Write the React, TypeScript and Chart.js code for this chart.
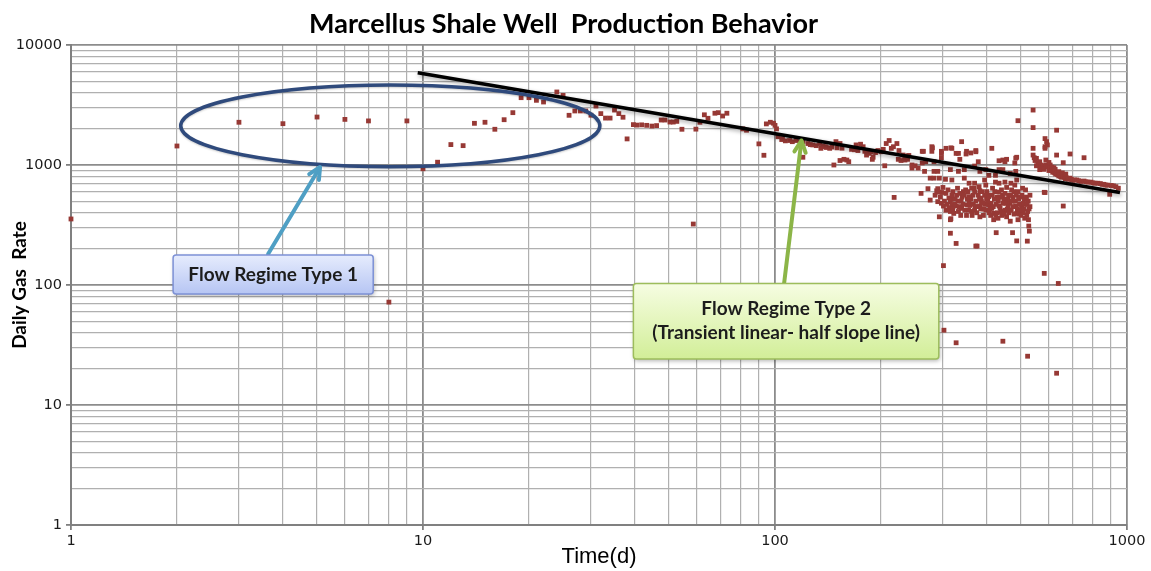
import React, { useEffect, useRef } from 'react';
import { Chart, registerables } from 'chart.js';

Chart.register(...registerables);

// ---------- text ----------
const chartTitle = 'Marcellus Shale Well  Production Behavior';
const xAxisTitle = 'Time(d)';
const yAxisTitle = 'Daily Gas  Rate';
const regime1Label = 'Flow Regime Type 1';
const regime2Lines = ['Flow Regime Type 2', '(Transient linear- half slope line)'];

// ---------- axes ----------
const xMajorTicks = [1, 10, 100, 1000];
const yMajorTicks = [1, 10, 100, 1000, 10000];
const minorSteps = [2, 3, 4, 5, 6, 7, 8, 9];

// ---------- data: [day, daily gas rate] ----------
const regime1Points: [number, number][] = [
  [1, 355], [2, 1440], [3, 2270], [4, 2210], [5, 2510], [6, 2400], [7, 2330], [8, 72], [9, 2330],
];

const transitionPoints: [number, number][] = [
  [10, 930], [11, 1055], [12, 1480], [13, 1450], [14, 2225], [15, 2270], [16, 1985], [17, 2385],
  [18, 2730], [19, 3640], [20, 3640], [21, 3460], [22, 3350], [24, 4060], [25, 3800], [26, 2595],
  [27, 2820], [28, 2820], [29, 2820], [30, 2600], [31, 3100], [32, 2680], [33, 2460], [34, 2460],
  [35, 2870], [36, 2680], [37, 2500], [38, 1650], [39.6, 2170],
];

const plateauPoints: [number, number][] = [
  [40.5, 2150], [41.8, 2160], [43.2, 2140], [44.7, 2110], [46.1, 2130], [47.5, 2370], [48.7, 2370],
  [50.3, 2280], [51.4, 2280], [52.6, 2310], [54.4, 1985], [58.6, 322], [59.6, 1990], [61.2, 2270],
  [63, 2620], [64.5, 2450], [67.5, 2700], [69, 2730], [71, 2560], [73, 2700], [81, 2000], [83, 1950],
  [90, 1500], [93, 1205], [94.5, 2200], [97, 2270], [99, 2230], [100, 2140], [101, 2000],
];

const linearPoints: [number, number][] = [
  [102, 1720], [104.5, 1630], [105, 1660], [107, 1590], [110, 1600], [112, 1565], [115, 1600],
  [118, 1540], [120, 1565], [120, 1160], [124, 1510], [126, 1480], [128, 1470], [131, 1450],
  [134, 1510], [135, 1377], [137, 1440], [139, 1420], [140, 1400], [143, 1377], [145, 1410],
  [147, 1000], [149, 1565], [150, 1390], [153, 1510], [153, 1090], [155, 1380], [157, 1115],
  [160, 1100], [162, 1065], [165, 1350], [168, 1340], [170, 1470], [172, 1320], [175, 1490],
  [178, 1420], [180, 1300], [182, 1210], [185, 1250], [187, 1280], [189, 1115], [190, 1160],
  [193, 1270], [196, 1320], [200, 1290], [203, 1350], [205, 985], [207, 1510], [211, 1600],
  [214, 1377], [217, 1420], [218, 537], [222, 1510], [224, 1115], [225, 1320], [228, 1090],
];

const clusterUpper: [number, number][] = [
  [231, 1210], [234, 1160], [234, 1100], [238, 1190], [238, 1115], [240, 1200], [245, 943], [245, 1000],
  [250, 985], [255, 943], [262, 1040], [262, 1300], [264, 1300], [266, 885], [268, 1065], [272, 635],
  [276, 777], [279, 1420], [279, 1300], [280, 1390], [283, 1065], [283, 885], [283, 777], [290, 885],
  [290, 635], [293, 777], [293, 595], [297, 1300], [297, 1250], [297, 1150], [305, 760], [306, 1377],
  [306, 580], [315, 915], [316, 1390], [318, 1377], [318, 750], [318, 560], [327, 1250], [332, 1250],
  [332, 885], [335, 1115], [335, 580], [339, 1565], [345, 915], [345, 777], [345, 560], [349, 1235],
  [350, 1300], [356, 705], [356, 545], [360, 1260], [369, 980], [369, 705], [369, 595], [372, 1290],
  [372, 1320], [378, 1065], [382, 885], [382, 610], [394, 750], [394, 560], [397, 915], [397, 680],
  [405, 820], [405, 545], [413, 1377], [423, 820], [423, 720], [433, 1085], [433, 915], [433, 705],
  [433, 595], [444, 1100], [444, 915], [450, 1065], [450, 720], [450, 580], [455, 1115], [466, 850],
  [468, 705], [468, 560], [480, 1040], [483, 1140], [483, 885], [486, 750],
];

const clusterMiddle: [number, number][] = [
  [300, 650], [310, 620], [312, 530], [320, 600], [325, 520], [330, 640], [338, 500], [342, 470],
  [348, 620], [352, 520], [358, 460], [362, 640], [365, 560], [372, 500], [376, 450], [380, 660],
  [385, 530], [390, 480], [392, 430], [400, 600], [402, 500], [408, 430], [410, 380], [415, 640],
  [420, 520], [425, 470], [428, 400], [430, 360], [438, 540], [440, 620], [445, 480], [448, 390],
  [455, 650], [458, 520], [460, 450], [462, 400], [470, 620], [472, 500], [475, 450], [478, 390],
  [480, 680], [490, 600], [492, 520], [495, 470], [498, 420], [500, 380], [503, 560], [505, 640],
  [508, 480], [510, 430], [512, 360], [515, 620], [518, 540], [520, 470], [522, 410], [525, 350],
  [526, 310], [530, 560], [530, 450],
];

const clusterDense: [number, number][] = [
  [285, 560], [288, 610], [295, 540], [298, 590], [303, 500], [308, 470], [312, 440], [317, 520],
  [320, 430], [324, 470], [328, 560], [331, 500], [334, 450], [337, 380], [340, 540], [343, 600],
  [346, 420], [350, 380], [353, 600], [355, 420], [360, 520], [363, 380], [366, 470], [368, 640],
  [371, 450], [374, 400], [378, 560], [381, 520], [384, 430], [388, 600], [391, 380], [395, 470],
  [399, 520], [403, 560], [406, 400], [411, 480], [414, 560], [417, 450], [421, 600], [424, 380],
  [427, 540], [431, 500], [436, 440], [441, 380], [443, 560], [447, 520], [452, 480], [457, 430],
  [461, 560], [465, 480], [469, 420], [474, 540], [477, 600], [482, 500], [485, 560], [488, 430],
  [494, 390], [497, 540], [502, 450], [506, 400], [511, 520], [514, 470], [519, 380], [524, 500],
  [527, 430],
];

const clusterLower: [number, number][] = [
  [260, 580], [276, 510], [290, 495], [293, 370], [297, 480], [301, 455], [301, 145], [302, 42],
  [306, 420], [315, 495], [315, 410], [315, 350], [315, 270], [316, 357], [318, 465], [322, 395],
  [327, 455], [327, 222], [327, 33], [332, 410], [339, 435], [352, 465], [356, 495], [362, 410],
  [369, 420], [372, 211], [375, 211], [382, 455], [382, 370], [386, 495], [397, 420], [405, 465],
  [413, 435], [418, 395], [418, 350], [425, 273], [433, 455], [438, 410], [444, 34], [450, 420],
  [455, 370], [466, 340], [473, 273], [483, 455], [486, 395], [486, 233], [490, 350], [521, 232],
  [522, 25.5], [528, 281],
];

const tailPoints: [number, number][] = [
  [490, 2340], [486, 1160], [541, 2870], [541, 2050], [541, 1377], [541, 1210], [545, 1150], [548, 1090],
  [553, 1136], [553, 985], [558, 1040], [562, 1010], [565, 1065], [565, 915], [568, 960], [571, 1000],
  [575, 940], [577, 985], [580, 920], [582, 592], [582, 125], [585, 1660], [585, 1420], [585, 1377],
  [585, 590], [588, 1100], [590, 1000], [591, 1565], [594, 1470], [594, 985], [597, 960], [600, 900],
  [600, 1050], [603, 930], [605, 1000], [607, 943], [610, 900], [612, 960], [615, 870], [619, 885],
  [620, 950], [623, 860], [625, 920], [627, 840], [631, 1950], [631, 1210], [631, 855], [631, 18.4],
  [635, 830], [638, 103], [640, 810], [640, 880], [644, 820], [648, 800], [652, 790], [655, 860],
  [659, 1045], [659, 800], [659, 455], [665, 790], [668, 770], [670, 840], [673, 780], [680, 760],
  [689, 1235], [689, 777], [695, 760], [700, 745], [710, 750], [720, 750], [730, 740], [740, 730],
  [755, 1150], [755, 735], [765, 725], [775, 720], [790, 720], [800, 710], [812, 705], [826, 705],
  [840, 700], [850, 690], [860, 690], [870, 680], [880, 680], [893, 570], [902, 675], [915, 670],
  [930, 660], [945, 640],
];

// half slope line end points
const halfSlopeDays = [9.66, 955];
const halfSlopeRates = [5880, 590];

// ---------- annotation anchors (data coordinates) ----------
const ellipseBox = { xMin: 2.05, xMax: 31.8, yMin: 968, yMax: 4640 };
const box1 = { xMin: 1.95, xMax: 7.22, yMin: 84.1, yMax: 178 };
const arrow1 = { from: [3.63, 181], to: [5.1, 962] };
const box2 = { xMin: 39.6, xMax: 292, yMin: 24.2, yMax: 103 };
const arrow2 = { from: [106, 100], to: [118.9, 1600] };

function buildTicks(majors: number[]) {
  const out: number[] = [];
  majors.forEach((m, i) => {
    out.push(m);
    if (i < majors.length - 1) minorSteps.forEach((s) => out.push(m * s));
  });
  return out;
}
const xTickValues = buildTicks(xMajorTicks);
const yTickValues = buildTicks(yMajorTicks);

const toXY = (pts: [number, number][]) => pts.map(([x, y]) => ({ x, y }));

function drawArrow(ctx: CanvasRenderingContext2D, x1: number, y1: number, x2: number, y2: number, color: string) {
  const ang = Math.atan2(y2 - y1, x2 - x1);
  const head = 13;
  ctx.save();
  ctx.strokeStyle = color;
  ctx.lineWidth = 4;
  ctx.lineCap = 'round';
  ctx.lineJoin = 'round';
  ctx.beginPath();
  ctx.moveTo(x1, y1);
  ctx.lineTo(x2 - Math.cos(ang) * 2, y2 - Math.sin(ang) * 2);
  ctx.stroke();
  ctx.beginPath();
  ctx.moveTo(x2 - head * Math.cos(ang - 0.45), y2 - head * Math.sin(ang - 0.45));
  ctx.lineTo(x2, y2);
  ctx.lineTo(x2 - head * Math.cos(ang + 0.45), y2 - head * Math.sin(ang + 0.45));
  ctx.stroke();
  ctx.restore();
}

function drawBox(
  ctx: CanvasRenderingContext2D, l: number, t: number, r: number, b: number,
  top: string, bottom: string, border: string, lines: string[],
) {
  ctx.save();
  const g = ctx.createLinearGradient(0, t, 0, b);
  g.addColorStop(0, top);
  g.addColorStop(1, bottom);
  ctx.shadowColor = 'rgba(0,0,0,0.3)';
  ctx.shadowBlur = 4;
  ctx.shadowOffsetX = 1;
  ctx.shadowOffsetY = 2;
  ctx.beginPath();
  ctx.roundRect(l, t, r - l, b - t, 3);
  ctx.fillStyle = g;
  ctx.fill();
  ctx.shadowColor = 'transparent';
  ctx.strokeStyle = border;
  ctx.lineWidth = 1.5;
  ctx.stroke();
  ctx.fillStyle = '#1c1c1c';
  ctx.font = 'bold 19px Lato';
  ctx.textAlign = 'center';
  ctx.textBaseline = 'middle';
  const cx = (l + r) / 2;
  const lh = 24;
  const cy = (t + b) / 2 - ((lines.length - 1) * lh) / 2;
  lines.forEach((s, i) => ctx.fillText(s, cx, cy + i * lh));
  ctx.restore();
}

const annotationPlugin = {
  id: 'annotations',
  beforeDatasetDraw(chart: any, args: any) {
    if (args.index === 0) {
      const ctx = chart.ctx;
      ctx.save();
      ctx.shadowColor = 'rgba(0,0,0,0.35)';
      ctx.shadowBlur = 4;
      ctx.shadowOffsetX = 1;
      ctx.shadowOffsetY = 2;
    }
  },
  afterDatasetDraw(chart: any, args: any) {
    if (args.index === 0) chart.ctx.restore();
  },
  afterDatasetsDraw(chart: any) {
    const ctx: CanvasRenderingContext2D = chart.ctx;
    const xs = chart.scales.x;
    const ys = chart.scales.y;
    const px = (v: number) => xs.getPixelForValue(v);
    const py = (v: number) => ys.getPixelForValue(v);

    // ellipse
    const el = px(ellipseBox.xMin), er = px(ellipseBox.xMax);
    const et = py(ellipseBox.yMax), eb = py(ellipseBox.yMin);
    ctx.save();
    ctx.strokeStyle = '#2f4a7c';
    ctx.lineWidth = 3.5;
    ctx.shadowColor = 'rgba(0,0,0,0.2)';
    ctx.shadowBlur = 2;
    ctx.shadowOffsetY = 1;
    ctx.beginPath();
    ctx.ellipse((el + er) / 2, (et + eb) / 2, (er - el) / 2, (eb - et) / 2, 0, 0, Math.PI * 2);
    ctx.stroke();
    ctx.restore();

    drawArrow(ctx, px(arrow1.from[0]), py(arrow1.from[1]), px(arrow1.to[0]), py(arrow1.to[1]), '#4f9fc4');
    drawArrow(ctx, px(arrow2.from[0]), py(arrow2.from[1]), px(arrow2.to[0]), py(arrow2.to[1]), '#8cb548');

    drawBox(ctx, px(box1.xMin), py(box1.yMax), px(box1.xMax), py(box1.yMin),
      '#e6ecfd', '#b6c5f3', '#7d91d6', [regime1Label]);
    drawBox(ctx, px(box2.xMin), py(box2.yMax), px(box2.xMax), py(box2.yMin),
      '#f6fde2', '#d2ee98', '#9dbd5c', regime2Lines);
  },
};

const gridColor = (ctx: any) => (ctx.tick && ctx.tick.major ? '#8c8c8c' : '#b0b0b0');
const gridWidth = (ctx: any) => (ctx.tick && ctx.tick.major ? 1.8 : 1.2);
const tickColor = (ctx: any) => (ctx.tick && ctx.tick.major ? '#808080' : 'rgba(0,0,0,0)');
const tickFont = { family: 'DejaVu Sans', size: 14.5 };

export default function App() {
  const ref = useRef<HTMLCanvasElement | null>(null);

  useEffect(() => {
    document.body.style.margin = '0';
    const canvas = ref.current;
    if (!canvas) return;
    const pointStyle = {
      type: 'scatter' as const,
      backgroundColor: '#973935',
      borderColor: '#973935',
      borderWidth: 0,
      pointStyle: 'rect' as const,
      pointRadius: 3.4,
      clip: false as const,
      order: 2,
    };
    const chart = new Chart(canvas, {
      type: 'scatter',
      data: {
        datasets: [
          {
            type: 'line',
            label: 'half slope',
            data: halfSlopeDays.map((x, i) => ({ x, y: halfSlopeRates[i] })),
            borderColor: '#000000',
            borderWidth: 3.5,
            pointRadius: 0,
            showLine: true,
            fill: false,
            order: 1,
          } as any,
          { ...pointStyle, label: 'regime 1', data: toXY(regime1Points) },
          { ...pointStyle, label: 'transition', data: toXY(transitionPoints) },
          { ...pointStyle, label: 'plateau', data: toXY(plateauPoints) },
          { ...pointStyle, label: 'linear', data: toXY(linearPoints) },
          { ...pointStyle, label: 'cluster upper', data: toXY(clusterUpper) },
          { ...pointStyle, label: 'cluster middle', data: toXY(clusterMiddle) },
          { ...pointStyle, label: 'cluster dense', data: toXY(clusterDense) },
          { ...pointStyle, label: 'cluster lower', data: toXY(clusterLower) },
          { ...pointStyle, label: 'tail', data: toXY(tailPoints) },
        ],
      },
      options: {
        responsive: false,
        animation: false,
        layout: { padding: { top: 0, right: 24, bottom: 0, left: 0 } },
        plugins: {
          legend: { display: false },
          tooltip: { enabled: false },
          title: {
            display: true,
            text: chartTitle,
            color: '#000',
            font: { family: 'Lato', weight: 'bold', size: 27, lineHeight: 1.2 },
            padding: { top: 8, bottom: 4.6 },
          },
        },
        scales: {
          x: {
            type: 'logarithmic',
            min: 1,
            max: 1000,
            afterBuildTicks: (s: any) => {
              s.ticks = xTickValues.map((v) => ({ value: v, major: xMajorTicks.includes(v) }));
            },
            afterFit: (s: any) => {
              s.height = 46;
              s.paddingLeft = 0;
              s.paddingRight = 0;
            },
            ticks: {
              autoSkip: false,
              maxRotation: 0,
              minRotation: 0,
              padding: 3,
              color: '#1a1a1a',
              font: tickFont,
              callback: (v: any, i: number, t: any[]) => (t[i] && t[i].major ? String(v) : ''),
            },
            grid: { color: gridColor, lineWidth: gridWidth, tickColor, tickLength: 5, tickWidth: 1.8 },
            border: { color: '#808080', width: 2 },
            title: {
              display: true,
              text: xAxisTitle,
              color: '#000',
              font: { family: 'Liberation Sans', size: 22, lineHeight: 1.15 },
              padding: { top: 0, bottom: 1 },
            },
          },
          y: {
            type: 'logarithmic',
            min: 1,
            max: 10000,
            afterBuildTicks: (s: any) => {
              s.ticks = yTickValues.map((v) => ({ value: v, major: yMajorTicks.includes(v) }));
            },
            afterFit: (s: any) => {
              s.width = 71;
              s.paddingTop = 0;
              s.paddingBottom = 0;
            },
            ticks: {
              autoSkip: false,
              padding: 4,
              color: '#1a1a1a',
              font: tickFont,
              callback: (v: any, i: number, t: any[]) => (t[i] && t[i].major ? String(v) : ''),
            },
            grid: { color: gridColor, lineWidth: gridWidth, tickColor, tickLength: 5, tickWidth: 1.8 },
            border: { color: '#808080', width: 2 },
            title: {
              display: true,
              text: yAxisTitle,
              color: '#000',
              font: { family: 'Lato', weight: 'bold', size: 19, lineHeight: 1.2 },
              padding: { top: 8.6, bottom: 0 },
            },
          },
        },
      },
      plugins: [annotationPlugin],
    });
    return () => chart.destroy();
  }, []);

  return (
    <div style={{ position: 'fixed', left: 0, top: 0, width: 1151, height: 571, background: '#fff' }}>
      <canvas ref={ref} width={1151} height={571} />
    </div>
  );
}
